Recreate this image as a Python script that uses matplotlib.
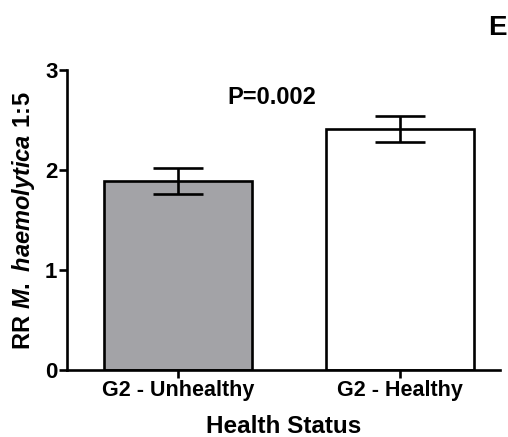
import numpy as np
import matplotlib
matplotlib.use('Agg')
import matplotlib.pyplot as plt

# Данни
categories = ['G2 - Unhealthy', 'G2 - Healthy']
means = [1.89, 2.41]
sem = [0.13, 0.13]
bar_colors = ['#a3a3a7', '#ffffff']
p_text = 'P=0.002'
panel = 'E'

plt.rcParams['font.family'] = ['Liberation Sans', 'DejaVu Sans']
plt.rcParams['font.weight'] = 'bold'
plt.rcParams['mathtext.fontset'] = 'custom'
plt.rcParams['mathtext.it'] = 'Liberation Sans:bold:italic'
plt.rcParams['mathtext.rm'] = 'Liberation Sans:bold'
plt.rcParams['mathtext.bf'] = 'Liberation Sans:bold'

fig = plt.figure(figsize=(5.08, 4.37), dpi=100)
ax = fig.add_axes([0.132, 0.153, 0.853, 0.687])

x = np.arange(len(categories))
ax.bar(x, means, width=0.667, color=bar_colors, edgecolor='black', linewidth=1.9, zorder=2)
ax.errorbar(x, means, yerr=sem, fmt='none', ecolor='black', elinewidth=1.9,
            capsize=18, capthick=1.9, zorder=3)

ax.set_xlim(-0.5, 1.45)
ax.set_ylim(0, 3)
ax.set_yticks([0, 1, 2, 3])
ax.set_xticks(x)
ax.set_xticklabels(categories, fontsize=15.5, fontweight='bold')
for lab in ax.get_yticklabels():
    lab.set_fontsize(16)
    lab.set_fontweight('bold')

for s in ['top', 'right']:
    ax.spines[s].set_visible(False)
for s in ['left', 'bottom']:
    ax.spines[s].set_linewidth(1.9)
ax.tick_params(axis='both', width=1.9, length=6, pad=1)

ax.set_xlabel('Health Status', fontsize=17.5, fontweight='bold', labelpad=10)
ax.set_ylabel(r'$\mathbf{RR}\ M.\ haemolytica\ \mathbf{1\!:\!5}$', fontsize=17, fontweight='bold', labelpad=6)

ax.text(0.42, 2.72, p_text, fontsize=17, fontweight='bold', ha='center', va='center')
fig.text(0.98, 0.937, panel, fontsize=20, fontweight='bold', ha='center', va='center')

plt.savefig('out.png', dpi=100)
